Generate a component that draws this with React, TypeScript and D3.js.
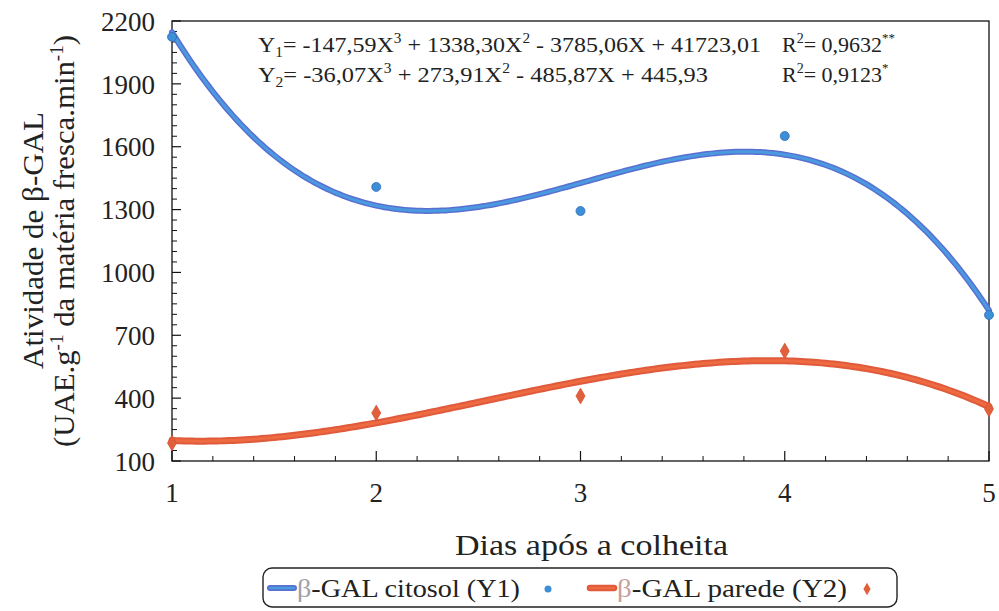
import React from 'react';
import * as d3 from 'd3';

// values
const days = [1, 2, 3, 4, 5];
const citosol = [2124, 1408, 1293, 1651, 797];
const parede = [186, 329, 410, 625, 348];
const yTicks = [100, 400, 700, 1000, 1300, 1600, 1900, 2200];
const xTicks = [1, 2, 3, 4, 5];

// least squares cubic fit (trend line of each series)
const cubicFit = (xs: number[], ys: number[]) => {
  const n = 4;
  const A = Array.from({ length: n }, () => new Array(n + 1).fill(0));
  xs.forEach((x, k) => {
    for (let i = 0; i < n; i++) {
      for (let j = 0; j < n; j++) A[i][j] += Math.pow(x, i + j);
      A[i][n] += ys[k] * Math.pow(x, i);
    }
  });
  for (let c = 0; c < n; c++) {
    let p = c;
    for (let r = c + 1; r < n; r++) if (Math.abs(A[r][c]) > Math.abs(A[p][c])) p = r;
    [A[c], A[p]] = [A[p], A[c]];
    for (let r = 0; r < n; r++) {
      if (r === c) continue;
      const f = A[r][c] / A[c][c];
      for (let k = c; k <= n; k++) A[r][k] -= f * A[c][k];
    }
  }
  const coef = A.map((row, i) => row[n] / row[i]);
  return (x: number) => coef.reduce((s, a, i) => s + a * Math.pow(x, i), 0);
};

const W = 999;
const H = 611;
const left = 172;
const right = 989;
const top = 21;
const bottom = 461;

const font = "'Times New Roman', Times, 'Liberation Serif', 'DejaVu Serif', 'Noto Serif', serif";
const stretch = 'spacingAndGlyphs';

export default function App() {
  const x = d3.scaleLinear().domain([1, 5]).range([left, right]);
  const y = d3.scaleLinear().domain([100, 2200]).range([bottom, top]);

  const f1 = cubicFit(days, citosol);
  const f2 = cubicFit(days, parede);
  const xs = d3.range(1, 5.0001, 0.02);
  const line = d3.line<number>().x((d) => x(d));
  const path1 = line.y((d) => y(f1(d)))(xs) || '';
  const path2 = line.y((d) => y(f2(d)))(xs) || '';

  const yMinor = d3.range(100, 2201, 50).filter((v) => !yTicks.includes(v));
  const xMinor = d3.range(1, 5.001, 0.2).filter((v) => Math.abs(v - Math.round(v)) > 0.01);

  const diamond = d3.symbol(d3.symbolDiamond, 70)() || '';

  return (
    <svg width={W} height={H} style={{ position: 'absolute', left: 0, top: 0, background: '#fff' }}>
      <g style={{ fontFamily: font }}>
        {/* frame */}
        <rect x={left} y={top} width={right - left} height={bottom - top} fill="none" stroke="#111" strokeWidth={1.3} />

        {/* y ticks */}
        {yTicks.map((v) => (
          <g key={'y' + v}>
            <line x1={left} x2={left + 9} y1={y(v)} y2={y(v)} stroke="#111" strokeWidth={1.2} />
            <text x={left - 17} y={y(v)} dy="0.36em" textAnchor="end" fontSize={27} fill="#222">
              {v}
            </text>
          </g>
        ))}
        {yMinor.map((v) => (
          <line key={'ym' + v} x1={left} x2={left + 5} y1={y(v)} y2={y(v)} stroke="#111" strokeWidth={1} />
        ))}

        {/* x ticks */}
        {xTicks.map((v) => (
          <g key={'x' + v}>
            <line x1={x(v)} x2={x(v)} y1={bottom} y2={bottom - 10} stroke="#111" strokeWidth={1.2} />
            <text x={x(v)} y={bottom + 41} textAnchor="middle" fontSize={27} fill="#222">
              {v}
            </text>
          </g>
        ))}
        {xMinor.map((v) => (
          <line key={'xm' + v} x1={x(v)} x2={x(v)} y1={bottom} y2={bottom - 5} stroke="#111" strokeWidth={1} />
        ))}

        {/* trend lines */}
        <path d={path1} fill="none" stroke="#5a6fd0" strokeWidth={6} strokeLinecap="round" />
        <path d={path1} fill="none" stroke="#4a9ae0" strokeWidth={3} strokeLinecap="round" />
        <path d={path2} fill="none" stroke="#e05a3c" strokeWidth={7} strokeLinecap="round" />
        <path d={path2} fill="none" stroke="#ee6a40" strokeWidth={3} strokeLinecap="round" />

        {/* observed points */}
        {days.map((d, i) => (
          <circle key={'c' + d} cx={x(d)} cy={y(citosol[i])} r={4.5} fill="#3d8fd8" stroke="#2f6fb8" strokeWidth={0.8} />
        ))}
        {days.map((d, i) => (
          <path key={'p' + d} d={diamond} transform={`translate(${x(d)},${y(parede[i])})`} fill="#e0603c" stroke="#d85030" strokeWidth={0.8} />
        ))}

        {/* equations */}
        <g fontSize={22} fill="#222">
          <text x={258} y={52} textLength={503} lengthAdjust={stretch}>
            Y<tspan fontSize={14} dy={5}>1</tspan>
            <tspan dy={-5}>= -147,59X</tspan>
            <tspan fontSize={14} dy={-9}>3</tspan>
            <tspan dy={9}> + 1338,30X</tspan>
            <tspan fontSize={14} dy={-9}>2</tspan>
            <tspan dy={9}> - 3785,06X + 41723,01</tspan>
          </text>
          <text x={258} y={82} textLength={450} lengthAdjust={stretch}>
            Y<tspan fontSize={14} dy={5}>2</tspan>
            <tspan dy={-5}>= -36,07X</tspan>
            <tspan fontSize={14} dy={-9}>3</tspan>
            <tspan dy={9}> + 273,91X</tspan>
            <tspan fontSize={14} dy={-9}>2</tspan>
            <tspan dy={9}> - 485,87X + 445,93</tspan>
          </text>
          <text x={782} y={52}>
            R<tspan fontSize={14} dy={-9}>2</tspan>
            <tspan dy={9}>= 0,9632</tspan>
            <tspan fontSize={13} dy={-10}>**</tspan>
          </text>
          <text x={782} y={82}>
            R<tspan fontSize={14} dy={-9}>2</tspan>
            <tspan dy={9}>= 0,9123</tspan>
            <tspan fontSize={13} dy={-10}>*</tspan>
          </text>
        </g>

        {/* axis titles */}
        <text x={455} y={555} fontSize={30} fill="#222" textLength={273} lengthAdjust={stretch}>
          Dias após a colheita
        </text>
        <g transform="translate(43,241) rotate(-90)">
          <text x={-128} y={0} fontSize={29} fill="#222" textLength={257} lengthAdjust={stretch}>
            Atividade de β-GAL
          </text>
          <text x={-206} y={31} fontSize={29} fill="#222" textLength={412} lengthAdjust={stretch}>
            (UAE.g<tspan fontSize={18} dy={-11}>-1</tspan>
            <tspan dy={11}> da matéria fresca.min</tspan>
            <tspan fontSize={18} dy={-11}>-1</tspan>
            <tspan dy={11}>)</tspan>
          </text>
        </g>

        {/* legend */}
        <rect x={263} y={568} width={634} height={39} rx={9} fill="none" stroke="#222" strokeWidth={1.4} />
        <line x1={270} x2={294} y1={588} y2={588} stroke="#5a6fd0" strokeWidth={6} strokeLinecap="round" />
        <line x1={270} x2={294} y1={588} y2={588} stroke="#4a9ae0" strokeWidth={2.5} strokeLinecap="round" />
        <text x={297} y={597} fontSize={26} fill="#222" textLength={223} lengthAdjust={stretch}>
          <tspan fill="#a0a0a8">β</tspan>-GAL citosol (Y1)
        </text>
        <circle cx={548} cy={589} r={3.5} fill="#3d8fd8" />
        <line x1={590} x2={614} y1={588} y2={588} stroke="#e05a3c" strokeWidth={6.5} strokeLinecap="round" />
        <line x1={590} x2={614} y1={588} y2={588} stroke="#ee6a40" strokeWidth={2.5} strokeLinecap="round" />
        <text x={617} y={597} fontSize={26} fill="#222" textLength={230} lengthAdjust={stretch}>
          <tspan fill="#c8a0a0">β</tspan>-GAL parede (Y2)
        </text>
        <path d={d3.symbol(d3.symbolDiamond, 45)() || ''} transform="translate(867,589)" fill="#e0603c" />
      </g>
    </svg>
  );
}
